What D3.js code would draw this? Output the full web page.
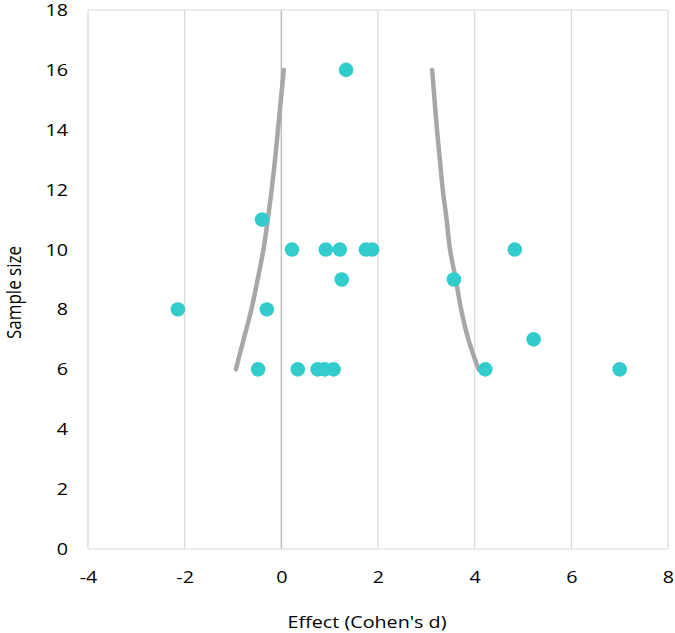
<!DOCTYPE html>
<html>
<head>
<meta charset="utf-8">
<script src="https://cdn.jsdelivr.net/npm/d3@7"></script>
<style>
  body { margin: 0; background: #fff; }
  text { font-family: "Open Sans", sans-serif; fill: #000; }
</style>
</head>
<body>
<svg id="chart"></svg>
<script>
// study effects (Cohen's d) and sample sizes
var effects = [-2.14, -0.4, -0.3, -0.48, 0.22, 0.34, 0.75, 0.9, 1.08, 0.92, 1.21, 1.25, 1.34, 1.75, 1.88, 3.57, 4.22, 4.83, 5.22, 7.0];
var sizes   = [8, 11, 8, 6, 10, 6, 6, 6, 6, 10, 10, 9, 16, 10, 10, 9, 6, 10, 7, 6];

// significance boundaries
var boundN     = [6, 7, 8, 9, 10, 11, 12, 13, 14, 15, 16];
var lowerBound = [-0.94, -0.78, -0.62, -0.49, -0.37, -0.28, -0.2, -0.13, -0.07, -0.01, 0.05];
var upperBound = [4.08, 3.87, 3.72, 3.61, 3.49, 3.42, 3.34, 3.28, 3.22, 3.17, 3.12];

var xTicks = [-4, -2, 0, 2, 4, 6, 8];
var yTicks = [0, 2, 4, 6, 8, 10, 12, 14, 16, 18];

var stretch = 1.16; // text in the picture is a bit wide

var margin = {top: 10, right: 7, bottom: 84, left: 88},
  width = 675 - margin.left - margin.right,
  height = 633 - margin.top - margin.bottom;

var svg = d3.select("#chart")
  .attr("width", 675)
  .attr("height", 633)
  .append("g")
  .attr("transform", "translate(" + margin.left + "," + margin.top + ")");

var x = d3.scaleLinear().domain([-4, 8]).range([0, width]);
var y = d3.scaleLinear().domain([0, 18]).range([height, 0]);

// vertical gridlines
svg.selectAll(".grid")
  .data(xTicks)
  .enter()
  .append("line")
    .attr("x1", d => x(d))
    .attr("x2", d => x(d))
    .attr("y1", 0)
    .attr("y2", height)
    .attr("stroke", d => d === 0 ? "#bfbfbf" : "#d9d9d9")
    .attr("stroke-width", d => d === 0 ? 1.5 : 1.2);

// top and bottom edges
svg.append("line")
  .attr("x1", 0).attr("x2", width)
  .attr("y1", 0).attr("y2", 0)
  .attr("stroke", "#d9d9d9").attr("stroke-width", 1.2);
svg.append("line")
  .attr("x1", 0).attr("x2", width)
  .attr("y1", height).attr("y2", height)
  .attr("stroke", "#d9d9d9").attr("stroke-width", 1.2);

// axes (labels only)
var xAxis = svg.append("g")
  .attr("transform", "translate(0," + height + ")")
  .call(d3.axisBottom(x).tickValues(xTicks).tickFormat(d => String(d)).tickSize(0).tickPadding(22));
var yAxis = svg.append("g")
  .call(d3.axisLeft(y).tickValues(yTicks).tickFormat(d => String(d)).tickSize(0).tickPadding(20 / stretch));
[xAxis, yAxis].forEach(a => {
  a.select(".domain").remove();
  a.selectAll("text")
    .attr("font-size", "17px")
    .attr("font-family", "Open Sans, sans-serif")
    .attr("transform", "scale(" + stretch + ",1)");
});

// boundary curves
var line = d3.line()
  .x(d => x(d[0]))
  .y(d => y(d[1]))
  .curve(d3.curveMonotoneY);

[lowerBound, upperBound].forEach(b => {
  svg.append("path")
    .datum(b.map((v, i) => [v, boundN[i]]))
    .attr("fill", "none")
    .attr("stroke", "#aaa6a6")
    .attr("stroke-width", 4.5)
    .attr("stroke-linecap", "round")
    .attr("d", line);
});

// studies
svg.selectAll(".dot")
  .data(effects)
  .enter()
  .append("circle")
    .attr("cx", d => x(d))
    .attr("cy", (d, i) => y(sizes[i]))
    .attr("r", 7.3)
    .attr("fill", "#33cccc");

svg.append("text")
  .attr("transform", "translate(" + (width / 2 - 11) + "," + (height + 79) + ") scale(" + stretch + ",1)")
  .style("text-anchor", "middle")
  .attr("font-size", "17px")
  .text("Effect (Cohen's d)");

svg.append("text")
  .attr("transform", "translate(-67," + (height / 2 + 13) + ") rotate(-90) scale(1," + stretch + ")")
  .style("text-anchor", "middle")
  .attr("font-size", "17px")
  .text("Sample size");
</script>
</body>
</html>
